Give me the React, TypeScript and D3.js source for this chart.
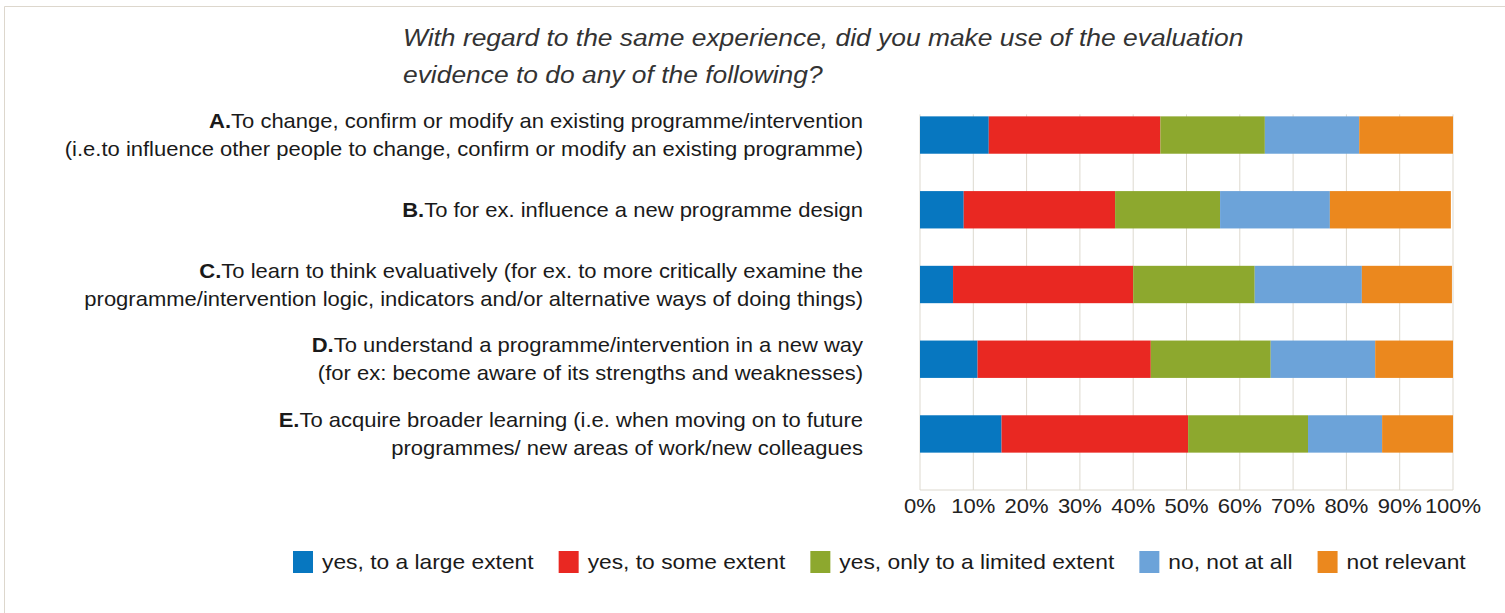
import React, { useMemo } from 'react';
import * as d3 from 'd3';

const categories = ['A', 'B', 'C', 'D', 'E'];
const labelLines = [
  ['To change, confirm or modify an existing programme/intervention', '(i.e.to influence other people to change, confirm or modify an existing programme)'],
  ['To for ex. influence a new programme design'],
  ['To learn to think evaluatively (for ex. to more critically examine the ', 'programme/intervention logic, indicators and/or alternative ways of doing things)'],
  ['To understand a programme/intervention in a new way ', '(for ex: become aware of its strengths and weaknesses)'],
  ['To acquire broader learning (i.e. when moving on to future', 'programmes/ new areas of work/new colleagues'],
];
const seriesNames = ['yes, to a large extent', 'yes, to some extent', 'yes, only to a limited extent', 'no, not at all', 'not relevant'];
const seriesColors = ['#0777c0', '#e92822', '#8da82e', '#6ca3d9', '#eb881e'];
// percent of respondents per answer, rows A..E
const largeExtent = [12.9, 8.2, 6.2, 10.8, 15.3];
const someExtent = [32.2, 28.4, 33.8, 32.5, 35.0];
const limitedExtent = [19.6, 19.7, 22.8, 22.5, 22.5];
const notAtAll = [17.7, 20.6, 20.1, 19.6, 13.9];
const notRelevant = [17.6, 22.7, 16.9, 14.6, 13.3];
const tickValues = [0, 10, 20, 30, 40, 50, 60, 70, 80, 90, 100];
const titleLines = [
  'With regard to the same experience, did you make use of the evaluation',
  'evidence to do any of the following?',
];

const FONT = "'Liberation Sans', Arial, Helvetica, sans-serif";
// the source text is a little wider than Arial
const STRETCH = 1.1;
const LEGEND_STRETCH = 1.14;

function textWidth(s: string, size: number) {
  const c = document.createElement('canvas').getContext('2d');
  if (!c) return s.length * size * 0.5;
  c.font = `${size}px ${FONT}`;
  return c.measureText(s).width;
}

export default function App() {
  const width = 1505;
  const height = 613;

  const rows = categories.map((c, i) => ({
    cat: c,
    s0: largeExtent[i],
    s1: someExtent[i],
    s2: limitedExtent[i],
    s3: notAtAll[i],
    s4: notRelevant[i],
  }));
  const stacked = d3.stack<any>().keys(['s0', 's1', 's2', 's3', 's4'])(rows);

  const x = d3.scaleLinear().domain([0, 100]).range([920, 1453]);
  const y = d3.scaleBand().domain(categories).range([79, 490]).paddingInner(0.5).paddingOuter(0.5);
  const plotBottom = 490;
  const gridTop = (y('A') as number) - 2;

  const legend = useMemo(() => {
    let cx = 293;
    return seriesNames.map((name, i) => {
      const item = { x: cx, name, color: seriesColors[i] };
      cx += 29 + textWidth(name, 20) * LEGEND_STRETCH + 25;
      return item;
    });
  }, []);

  return (
    <>
      <style>{`body{margin:0}`}</style>
      <svg width={width} height={height} style={{ display: 'block', fontFamily: FONT }}>
        <rect width={width} height={height} fill="#fff" />
        <line x1={4.5} x2={width} y1={6.5} y2={6.5} stroke="#ddd7cd" />
        <line x1={4.5} x2={4.5} y1={6.5} y2={height} stroke="#ddd7cd" />

        {titleLines.map((t, i) => (
          <text
            key={i}
            transform={`translate(403,${46 + i * 37}) scale(${STRETCH},1)`}
            fontSize={24}
            fontStyle="italic"
            fill="#333"
          >
            {t}
          </text>
        ))}

        {tickValues.map((t) => (
          <line key={t} x1={x(t)} x2={x(t)} y1={gridTop} y2={plotBottom} stroke="#ddd9cf" strokeWidth={1} />
        ))}
        <line x1={x(0)} x2={x(100)} y1={plotBottom} y2={plotBottom} stroke="#ddd9cf" />

        {stacked.map((layer, si) => (
          <g key={si} fill={seriesColors[si]}>
            {layer.map((d: any, ci: number) => (
              <rect
                key={ci}
                x={x(d[0])}
                width={x(d[1]) - x(d[0])}
                y={y(categories[ci])}
                height={y.bandwidth()}
              />
            ))}
          </g>
        ))}

        {tickValues.map((t) => (
          <text
            key={t}
            transform={`translate(${x(t)},513) scale(${STRETCH},1)`}
            fontSize={20}
            textAnchor="middle"
            fill="#222"
          >
            {t}%
          </text>
        ))}

        {categories.map((c, ci) => {
          const lines = labelLines[ci];
          const cy = (y(c) as number) + y.bandwidth() / 2;
          return lines.map((ln, li) => (
            <text
              key={c + li}
              transform={`translate(863,${cy + (li - (lines.length - 1) / 2) * 28 + 7}) scale(${STRETCH},1)`}
              fontSize={20}
              textAnchor="end"
              fill="#1a1a1a"
            >
              {li === 0 && <tspan fontWeight="bold">{c}.</tspan>}
              {ln}
            </text>
          ));
        })}

        {legend.map((l) => (
          <g key={l.name}>
            <rect x={l.x} y={551} width={20} height={22} fill={l.color} />
            <text
              transform={`translate(${l.x + 29},569) scale(${LEGEND_STRETCH},1)`}
              fontSize={20}
              fill="#1a1a1a"
            >
              {l.name}
            </text>
          </g>
        ))}
      </svg>
    </>
  );
}
